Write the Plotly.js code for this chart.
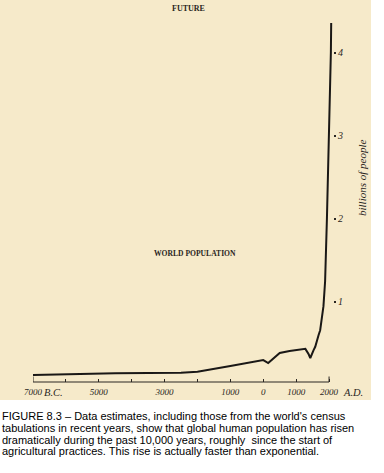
<!DOCTYPE html>
<html><head><meta charset="utf-8">
<script src="https://cdn.plot.ly/plotly-3.0.1.min.js"></script>
<style>
html,body{margin:0;padding:0;background:#fff;}
#wrap{position:relative;width:384px;height:473px;}
#bg{position:absolute;left:0;top:0;width:371px;height:400px;background:rgb(246,234,202);}
#chart{position:absolute;left:0;top:0;width:384px;height:473px;}
</style>
</head><body><div id="wrap"><div id="bg"></div><div id="chart"></div></div>
<script>
// Data (year, billions of people)
const years = [-7000, -6000, -4500, -2500, -2000, -1000, -100, 0, 150, 500, 800, 1280, 1380, 1430, 1530, 1580, 1680, 1730, 1830, 1880, 1935, 2005, 2055, 2065];
const billions = [0.12, 0.13, 0.14, 0.148, 0.16, 0.23, 0.295, 0.30, 0.265, 0.385, 0.41, 0.435, 0.37, 0.325, 0.42, 0.46, 0.60, 0.66, 0.95, 1.25, 2.0, 3.0, 4.0, 4.36];

const xTickVals = [-7000, -6000, -5000, -4000, -3000, -2000, -1000, 0, 1000, 2000];
const xTickText = ["7000", "", "5000", "", "3000", "", "1000", "0", "1000", "2000"];
const yTickVals = [1, 2, 3, 4];
const yTickText = ["1", "2", "3", "4"];

const captionLines = [
  "FIGURE 8.3 \u2013 Data estimates, including those from the world's census",
  "tabulations in recent years, show that global human population has risen",
  "dramatically during the past 10,000 years, roughly  since the start of",
  "agricultural practices. This rise is actually faster than exponential."
];

const W = 384, H = 473;
const mL = 33, mR = 51, mT = 3, mB = 91;
const pw = W - mL - mR, ph = H - mT - mB;
const px = x => (x - mL) / pw;            // pixel -> paper x
const py = y => (H - mB - y) / ph;        // pixel -> paper y

const serif = "Liberation Serif, Times New Roman, serif";
const ink = "#2a2622";

function note(text, x, y, font, extra) {
  return Object.assign({text: text, x: px(x), y: py(y), xref: "paper", yref: "paper",
    xanchor: "center", yanchor: "middle", showarrow: false, font: font}, extra || {});
}

const annotations = [
  note("FUTURE", 188, 8.5, {family: serif, size: 8, weight: "bold", color: ink}),
  note("WORLD POPULATION", 195, 253, {family: serif, size: 7.6, weight: "bold", color: ink}),
  note("billions of people", 362, 178, {family: serif, size: 11, style: "italic", color: ink}, {textangle: -90}),
  note("B.C.", 53, 392, {family: serif, size: 10.5, style: "italic", color: ink}),
  note("A.D.", 353, 392, {family: serif, size: 10.5, style: "italic", color: ink})
];
const capY = [416.2, 428, 439.7, 451.3];
captionLines.forEach((t, i) => annotations.push(
  note(t, 0, capY[i], {family: "Liberation Sans, Arial, sans-serif", size: 11, color: "#000"}, {xanchor: "left"})
));

const layout = {
  width: W, height: H,
  margin: {l: mL, r: mR, t: mT, b: mB, pad: 0},
  paper_bgcolor: "rgba(0,0,0,0)",
  plot_bgcolor: "rgba(0,0,0,0)",
  showlegend: false,
  xaxis: {
    range: [-7000, 2120], showgrid: false, zeroline: false, showline: false,
    ticks: "inside", ticklen: 3, tickwidth: 1, tickcolor: ink,
    tickmode: "array", tickvals: xTickVals, ticktext: xTickText,
    tickfont: {family: serif, size: 9, style: "italic", color: ink},
    ticklabelstandoff: 3,
    fixedrange: true, automargin: false
  },
  yaxis: {
    range: [0.036, 4.602], side: "right", showgrid: false, zeroline: false, showline: false,
    ticks: "outside", ticklen: 2, tickwidth: 2, tickcolor: ink,
    tickmode: "array", tickvals: yTickVals, ticktext: yTickText,
    tickfont: {family: serif, size: 10, style: "italic", color: ink},
    fixedrange: true, automargin: false
  },
  shapes: [
    {type: "line", xref: "x", yref: "paper", x0: xTickVals[0], x1: xTickVals[xTickVals.length - 1], y0: 0, y1: 0,
     line: {color: ink, width: 1.2}},
    {type: "line", xref: "x", yref: "paper", x0: xTickVals[0], x1: xTickVals[0], y0: 0, y1: py(376.5),
     line: {color: ink, width: 1}},
    {type: "line", xref: "x", yref: "paper", x0: xTickVals[xTickVals.length - 1], x1: xTickVals[xTickVals.length - 1], y0: 0, y1: py(376.5),
     line: {color: ink, width: 1}}
  ],
  annotations: annotations
};

Plotly.newPlot("chart", [{
  type: "scatter", mode: "lines", x: years, y: billions,
  line: {color: "#1a1816", width: 2}, hoverinfo: "skip"
}], layout, {staticPlot: true, displayModeBar: false});
</script>
</body></html>
